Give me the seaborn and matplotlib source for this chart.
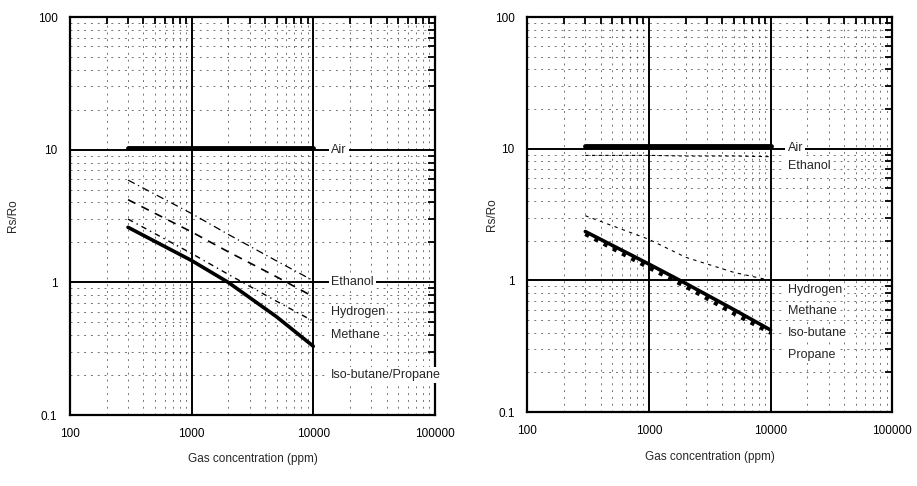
import numpy as np
import pandas as pd
import matplotlib
matplotlib.use("Agg")
import matplotlib.pyplot as plt
import seaborn as sns
from matplotlib.ticker import LogLocator, NullFormatter, FixedLocator, FixedFormatter

# gas concentration (ppm) where the curves are read
conc = [300, 1000, 2000, 5000, 10000]

# left sensor
left_air = [10.3, 10.3, 10.3, 10.3, 10.3]
left_ethanol = [5.9, 3.3, 2.3, 1.45, 1.03]
left_hydrogen = [4.2, 2.4, 1.7, 1.1, 0.78]
left_methane = [3.0, 1.65, 1.15, 0.72, 0.51]
left_isobutane = [2.6, 1.46, 1.0, 0.55, 0.33]

# right sensor
right_air = [10.5, 10.5, 10.5, 10.5, 10.5]
right_ethanol = [8.9, 8.9, 8.8, 8.8, 8.7]
right_hydrogen = [3.1, 2.05, 1.5, 1.15, 1.0]
right_methane = [2.35, 1.33, 0.95, 0.6, 0.42]
right_isobutane = [2.25, 1.25, 0.9, 0.56, 0.4]

x_ticks = [100, 1000, 10000, 100000]
x_ticklabels = ["100", "1000", "10000", "100000"]
y_ticks = [0.1, 1, 10, 100]
y_ticklabels = ["0.1", "1", "10", "100"]

left_labels = [("Air", 10), ("Ethanol", 1.0), ("Hydrogen", 0.6),
               ("Methane", 0.4), ("Iso-butane/Propane", 0.2)]
right_labels = [("Air", 10.2), ("Ethanol", 7.4), ("Hydrogen", 0.84),
                ("Methane", 0.585), ("Iso-butane", 0.4), ("Propane", 0.27)]

sns.set_style("white")
plt.rcParams['font.family'] = ['Liberation Sans', 'DejaVu Sans']

fig = plt.figure(figsize=(9.17, 4.86), dpi=100)
ax_l = fig.add_axes([0.0763, 0.146, 0.398, 0.819])
ax_r = fig.add_axes([0.575, 0.152, 0.398, 0.813])


def draw_curve(ax, values, **kw):
    df = pd.DataFrame({"conc": conc, "ratio": values})
    sns.lineplot(data=df, x="conc", y="ratio", ax=ax, color="black",
                 errorbar=None, **kw)


def style_axes(ax, labels, label_x, ylabel_x):
    ax.set_xscale("log")
    ax.set_yscale("log")
    ax.set_xlim(100, 100000)
    ax.set_ylim(0.1, 100)
    ax.xaxis.set_major_locator(FixedLocator(x_ticks))
    ax.xaxis.set_major_formatter(FixedFormatter(x_ticklabels))
    ax.yaxis.set_major_locator(FixedLocator(y_ticks))
    ax.yaxis.set_major_formatter(FixedFormatter(y_ticklabels))
    ax.xaxis.set_minor_locator(LogLocator(base=10, subs=np.arange(2, 10)))
    ax.yaxis.set_minor_locator(LogLocator(base=10, subs=np.arange(2, 10)))
    ax.xaxis.set_minor_formatter(NullFormatter())
    ax.yaxis.set_minor_formatter(NullFormatter())
    ax.grid(which="major", color="black", linewidth=1.4)
    ax.grid(which="minor", color="black", linewidth=0.7,
            linestyle=(0, (2, 5)), alpha=0.55)
    ax.tick_params(which="both", direction="in", top=True, right=True, colors="black")
    ax.tick_params(which="major", length=0, pad=9, labelsize=8.5)
    ax.tick_params(which="minor", length=5, width=1.3)
    for s in ax.spines.values():
        s.set_color("black")
        s.set_linewidth(1.6)
    ax.set_xlabel("Gas concentration (ppm)", fontsize=8.5, labelpad=10)
    ax.set_ylabel("Rs/Ro", fontsize=8.5)
    ax.yaxis.set_label_coords(ylabel_x, 0.5)
    for text, y in labels:
        ax.text(label_x, y, text, fontsize=9, va="center", ha="left",
                bbox=dict(fc="white", ec="none", pad=1.5), zorder=5)


# left chart
draw_curve(ax_l, left_air, linewidth=3.5)
draw_curve(ax_l, left_ethanol, linewidth=0.9, linestyle=(0, (6, 3, 1, 3)))
draw_curve(ax_l, left_hydrogen, linewidth=1.2, linestyle=(0, (5, 4)))
draw_curve(ax_l, left_methane, linewidth=1.0, linestyle=(0, (4, 3, 1, 3)))
draw_curve(ax_l, left_isobutane, linewidth=2.6)
style_axes(ax_l, left_labels, 14000, -0.14)

# right chart
draw_curve(ax_r, right_air, linewidth=3.5)
draw_curve(ax_r, right_ethanol, linewidth=0.8, linestyle=(0, (3, 3)))
draw_curve(ax_r, right_hydrogen, linewidth=0.8, linestyle=(0, (3, 4)))
draw_curve(ax_r, right_isobutane, linewidth=3.0, linestyle=(0, (1, 1.5)))
draw_curve(ax_r, right_methane, linewidth=2.6)
style_axes(ax_r, right_labels, 13800, -0.08)

fig.savefig("out.png", dpi=100)
